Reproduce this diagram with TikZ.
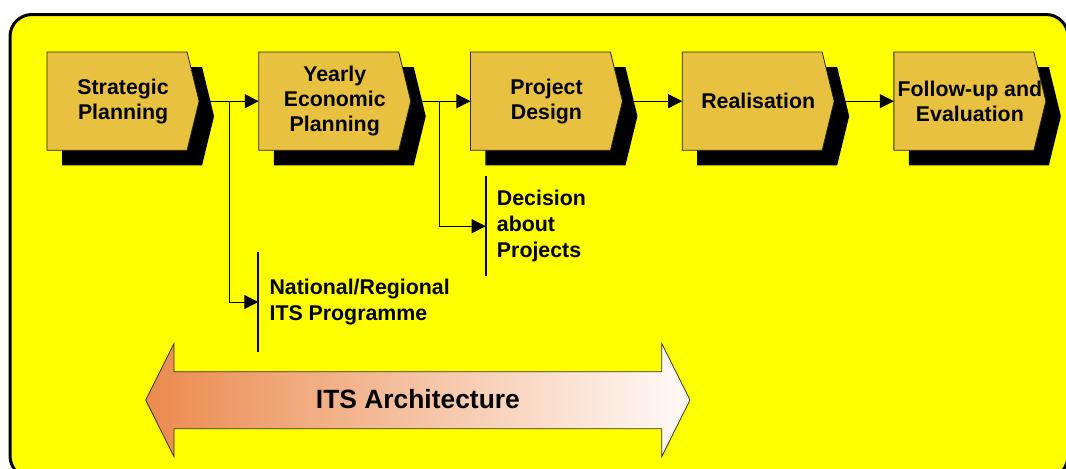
\documentclass[tikz,border=0pt]{standalone}
\usepackage{fontspec}
\setmainfont{Liberation Sans}
\usetikzlibrary{arrows.meta}
\usetikzlibrary{backgrounds}
\definecolor{panelyellow}{RGB}{255,255,0}
\definecolor{boxgold}{RGB}{233,193,65}
\definecolor{archleft}{RGB}{235,138,78}
\definecolor{archright}{RGB}{255,251,249}

\begin{document}
\begin{tikzpicture}[x=0.75pt,y=0.75pt,yscale=-1,xscale=1,
  stage/.style={minimum width=113.6pt,minimum height=73.3pt,inner sep=0pt,align=center,font=\fontsize{16}{18.75}\selectfont\bfseries},
  note/.style={anchor=west,minimum height=74.25pt,inner xsep=8.25pt,inner ysep=0pt,align=left,font=\fontsize{16}{19.5}\selectfont\bfseries},
  flow/.style={line width=0.75pt,-{Triangle[length=10.5pt,width=10.5pt]}},
  bar/.style={line width=1.5pt}]
\useasboundingbox (0,0) rectangle (1066,468);

% Stage Nodes
\node [stage] (strat) at (123.05,101.2) {Strategic\\Planning};
\node [stage] (yearly) at (334.75,101.2) {Yearly\\Economic\\Planning};
\node [stage] (design) at (546.45,101.2) {Project\\Design};
\node [stage] (real) at (758.15,101.2) {Realisation};
\node [stage] (follow) at (969.85,101.2) {Follow-up and\\Evaluation};

% Text Node
\node [note] (natprog) at (258.3,302) {National/Regional\\ITS Programme};
% Text Node
\node [note] (decision) at (485.7,226.2) {Decision\\about\\Projects};

%Straight Lines 
\draw [flow] (strat.east) -- (yearly.west);
\draw [flow] (yearly.east) -- (design.west);
\draw [flow] (design.east) -- (real.west);
\draw [flow] (real.east) -- (follow.west);

%Branch Lines 
\coordinate (b1) at (229.5,101.2);
\coordinate (b2) at (439,101.2);
\draw [flow] (b1) |- (natprog.west);
\draw [flow] (b2) |- (decision.west);
\draw [bar] (natprog.north west) -- (natprog.south west);
\draw [bar] (decision.north west) -- (decision.south west);

%Shape: Double Arrow 
\shadedraw [left color=archleft,right color=archright,draw=black!80,line width=0.6pt] (145.7,400) -- (174,343.5) -- (174,371.7) -- (661.7,371.7) -- (661.7,343.5) -- (690,400) -- (661.7,456.7) -- (661.7,428.7) -- (174,428.7) -- (174,456.7) -- cycle ;
% Text Node
\node [font=\fontsize{19.8}{23}\selectfont\bfseries] (arch) at (417.9,399) {ITS Architecture};

\begin{scope}[on background layer]
%Shape: Rounded Rectangle 
\draw [fill=panelyellow,line width=2.25pt,rounded corners=16.5pt] (10,14.5) rectangle (1068,478) ;
%Shape: Stage Polygons 
\foreach \n in {strat,yearly,design,real,follow}{
  \fill ([shift={(15,15)}]\n.north west) -- ([shift={(3,15)}]\n.north east) -- ([shift={(15,15)}]\n.east) -- ([shift={(3,15)}]\n.south east) -- ([shift={(15,15)}]\n.south west) -- cycle ;
  \filldraw [fill=boxgold,draw=black!85,line width=0.6pt] (\n.north west) -- ([shift={(-12,0)}]\n.north east) -- (\n.east) -- ([shift={(-12,0)}]\n.south east) -- (\n.south west) -- cycle ;
}
\end{scope}

\end{tikzpicture}
\end{document}
